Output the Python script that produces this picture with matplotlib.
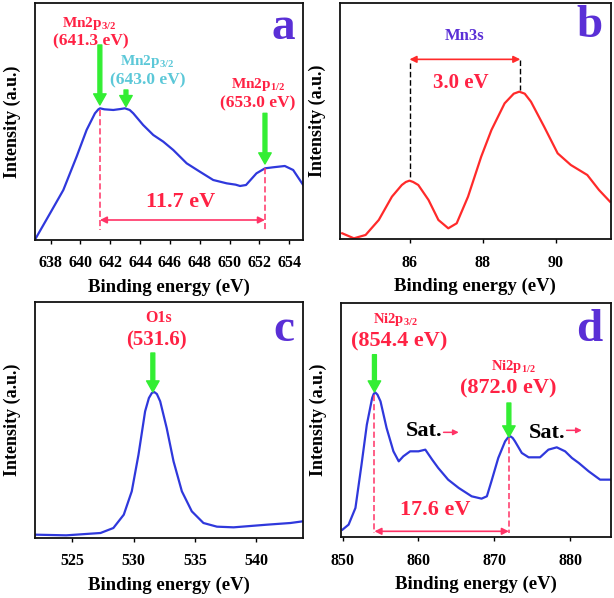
import numpy as np
import matplotlib
matplotlib.use("Agg")
import matplotlib.pyplot as plt

plt.rcParams['font.family'] = ['Liberation Serif', 'DejaVu Serif']
plt.rcParams['font.weight'] = 'bold'
plt.rcParams['mathtext.fontset'] = 'custom'
plt.rcParams['mathtext.rm'] = 'Liberation Serif:bold'
plt.rcParams['mathtext.default'] = 'rm'

# --- data (intensity in arbitrary units) ---
# a: Mn 2p
mn2p_e = [637.0, 637.96, 638.85, 639.74, 640.41, 640.97, 641.2, 641.31, 641.6, 642.2, 642.7,
          642.98, 643.3, 643.54, 644.2, 644.88, 645.55, 646.22, 647.12, 648.0, 648.9, 649.8,
          650.4, 650.7, 651.1, 651.8, 652.37, 652.9, 653.7, 654.26, 654.93]
mn2p_i = [5, 80, 150, 250, 330, 380, 392, 395, 392, 390, 393,
          395, 390, 380, 345, 315, 295, 270, 230, 205, 180, 170,
          166, 162, 165, 200, 215, 218, 222, 210, 165]

# b: Mn 3s
mn3s_e = [84.16, 84.48, 84.8, 85.16, 85.52, 85.79, 85.9, 86.0, 86.1, 86.24, 86.52, 86.79,
          87.06, 87.29, 87.6, 87.96, 88.24, 88.6, 88.85, 89.0, 89.15, 89.32, 89.68, 90.05,
          90.41, 90.86, 91.18, 91.48]
mn3s_i = [18, 3, 13, 58, 128, 163, 172, 176, 172, 163, 118, 58,
          33, 48, 128, 248, 328, 408, 437, 443, 437, 413, 338, 258,
          223, 193, 148, 113]

# c: O 1s
o1s_e = [521.95, 524.5, 527.3, 528.35, 529.2, 529.85, 530.4, 530.94, 531.25, 531.49, 531.68,
         531.9, 532.17, 532.7, 533.26, 533.94, 534.75, 535.7, 536.8, 538.16, 540.9, 542.8, 543.8]
o1s_i = [10, 8, 15, 30, 70, 140, 250, 380, 420, 435, 438,
         432, 410, 330, 230, 140, 80, 45, 34, 32, 40, 45, 50]

# d: Ni 2p
ni2p_e = [850.0, 850.8, 851.7, 852.5, 853.2, 853.9, 854.1, 854.3, 854.6, 855.0, 855.8, 856.7,
          857.4, 858.0, 858.9, 860.0, 860.9, 861.8, 862.6, 863.9, 865.3, 867.0, 868.3, 869.0,
          869.6, 870.5, 871.4, 871.8, 872.1, 872.4, 872.7, 873.6, 874.5, 876.0, 877.1, 878.2,
          879.3, 880.2, 881.1, 882.4, 883.9, 885.2]
ni2p_i = [23, 38, 88, 218, 338, 418, 430, 435, 428, 408, 328, 258,
          228, 243, 258, 258, 263, 233, 208, 173, 148, 123, 116, 123,
          168, 238, 288, 300, 303, 298, 288, 253, 240, 240, 263, 270,
          258, 238, 223, 198, 173, 173]

BLUE = '#2f38dc'
RED = '#ff2a2a'
TXT_RED = '#ff2244'
GREEN = '#33ee33'
CYAN = '#5cc8d8'
PURPLE = '#5a2fd6'
PINK = '#ff3366'

fig = plt.figure(figsize=(6.14, 5.98), dpi=100)
W, H = 614, 598


def make_ax(l, t, r, b):
    return fig.add_axes([l / W, 1 - b / H, (r - l) / W, (b - t) / H])


ax_a = make_ax(34.7, 3.3, 302.7, 240)
ax_b = make_ax(340, 2.7, 610.7, 239.3)
ax_c = make_ax(34.7, 302, 302.7, 538)
ax_d = make_ax(341, 302.7, 610.7, 537.3)


def style(ax, letter, lx, ly):
    for s in ax.spines.values():
        s.set_linewidth(1.3)
        s.set_color('#111111')
    ax.set_yticks([])
    ax.tick_params(axis='x', direction='out', length=3, width=1, labelsize=11.5, pad=8)
    for lab in ax.get_xticklabels():
        lab.set_fontweight('bold')
    ax.set_xlabel('Binding energy (eV)', fontsize=13.5, fontweight='bold', labelpad=5)
    ax.set_ylabel('Intensity (a.u.)', fontsize=13, fontweight='bold', labelpad=10)
    ax.text(lx, ly, letter, transform=ax.transAxes, fontsize=34, fontweight='bold',
            color=PURPLE, ha='center', va='center')


def green_arrow(ax, x, y0, y1):
    ax.annotate('', xy=(x, y1), xytext=(x, y0),
                arrowprops=dict(width=2.8, headwidth=9, headlength=8,
                                color=GREEN, shrink=0))


def span_arrow(ax, x0, x1, y, color=PINK):
    ax.annotate('', xy=(x1, y), xytext=(x0, y),
                arrowprops=dict(arrowstyle='<|-|>', lw=1.2, color=color,
                                mutation_scale=10, shrinkA=0, shrinkB=0))


def small_arrow(ax, x0, x1, y):
    ax.annotate('', xy=(x1, y), xytext=(x0, y),
                arrowprops=dict(arrowstyle='-|>', lw=1.1, color=PINK,
                                mutation_scale=8, shrinkA=0, shrinkB=0))


def txt(ax, x, y, s, size, color=TXT_RED):
    ax.text(x, y, s, fontsize=size, color=color, fontweight='bold', ha='center', va='center')


# ---- panel a ----
ax_a.plot(mn2p_e, mn2p_i, color=BLUE, lw=1.6)
ax_a.set_xlim(636.93, 654.9)
ax_a.set_ylim(0, 710)
ax_a.set_xticks(np.arange(638, 655, 2))
style(ax_a, 'a', 0.926, 0.894)
txt(ax_a, 640.6, 650, r'Mn2p$_{3/2}$', 11)
txt(ax_a, 640.7, 595, '(641.3 eV)', 12.5)
green_arrow(ax_a, 641.3, 585, 405)
txt(ax_a, 644.5, 535, r'Mn2p$_{3/2}$', 11, CYAN)
txt(ax_a, 644.5, 480, '(643.0 eV)', 12.5, CYAN)
green_arrow(ax_a, 643.05, 450, 400)
txt(ax_a, 651.9, 465, r'Mn2p$_{1/2}$', 11)
txt(ax_a, 651.9, 410, '(653.0 eV)', 12.5)
green_arrow(ax_a, 652.37, 380, 228)
ax_a.plot([641.3, 641.3], [390, 30], ls='--', color=PINK, lw=1.1, dashes=(4, 2))
ax_a.plot([652.37, 652.37], [215, 30], ls='--', color=PINK, lw=1.1, dashes=(4, 2))
span_arrow(ax_a, 641.3, 652.37, 60)
txt(ax_a, 646.7, 115, '11.7 eV', 16)

# ---- panel b ----
ax_b.plot(mn3s_e, mn3s_i, color=RED, lw=1.6)
ax_b.set_xlim(84.1, 91.5)
ax_b.set_ylim(0, 710)
ax_b.set_xticks([86, 88, 90])
style(ax_b, 'b', 0.922, 0.9)
txt(ax_b, 87.5, 610, 'Mn3s', 12, PURPLE)
span_arrow(ax_b, 86.0, 89.03, 540, RED)
ax_b.plot([86.0, 86.0], [528, 188], ls='--', color='black', lw=1.0, dashes=(4, 2))
ax_b.plot([89.03, 89.03], [538, 448], ls='--', color='black', lw=1.0, dashes=(4, 2))
txt(ax_b, 87.4, 468, '3.0 eV', 15)

# ---- panel c ----
ax_c.plot(o1s_e, o1s_i, color=BLUE, lw=1.6)
ax_c.set_xlim(521.93, 543.8)
ax_c.set_ylim(0, 708)
ax_c.set_xticks([525, 530, 535, 540])
style(ax_c, 'c', 0.93, 0.88)
txt(ax_c, 532.0, 660, 'O1s', 11.5)
txt(ax_c, 531.9, 592, '(531.6)', 15)
green_arrow(ax_c, 531.57, 555, 438)

# ---- panel d ----
ax_d.plot(ni2p_e, ni2p_i, color=BLUE, lw=1.6)
ax_d.set_xlim(849.8, 885.3)
ax_d.set_ylim(0, 704)
ax_d.set_xticks([850, 860, 870, 880])
style(ax_d, 'd', 0.92, 0.885)
txt(ax_d, 856.9, 653, r'Ni2p$_{3/2}$', 10.5)
txt(ax_d, 857.4, 588, '(854.4 eV)', 16)
green_arrow(ax_d, 854.2, 548, 436)
txt(ax_d, 872.5, 513, r'Ni2p$_{1/2}$', 10.5)
txt(ax_d, 871.8, 448, '(872.0 eV)', 16)
green_arrow(ax_d, 871.9, 403, 301)
txt(ax_d, 860.7, 318, 'Sat.', 16, 'black')
small_arrow(ax_d, 863.3, 865.3, 315)
txt(ax_d, 876.9, 313, 'Sat.', 16, 'black')
small_arrow(ax_d, 879.5, 881.5, 321)
ax_d.plot([854.2, 854.2], [428, 13], ls='--', color=PINK, lw=1.1, dashes=(4, 2))
ax_d.plot([871.9, 871.9], [298, 13], ls='--', color=PINK, lw=1.1, dashes=(4, 2))
span_arrow(ax_d, 854.2, 871.9, 18)
txt(ax_d, 862.2, 83, '17.6 eV', 16)

fig.savefig('out.png', dpi=100)
